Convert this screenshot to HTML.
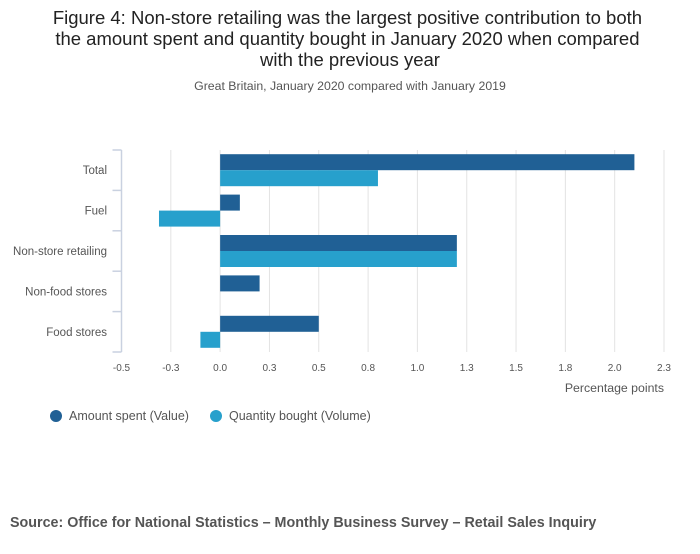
<!DOCTYPE html>
<html><head><meta charset="utf-8"><style>
body{margin:0;background:#fff;font-family:"Liberation Sans",sans-serif;}
svg text{font-family:"Liberation Sans",sans-serif;}
</style></head><body>
<svg width="700" height="549" viewBox="0 0 700 549">
<text x="350" y="24" text-anchor="middle" font-size="18.5" fill="#222">
<tspan x="350" y="24">Figure 4: Non-store retailing was the largest positive contribution to both</tspan>
<tspan x="350" y="45">the amount spent and quantity bought in January 2020 when compared</tspan>
<tspan x="350" y="66">with the previous year</tspan></text>
<text x="350" y="90" text-anchor="middle" font-size="12.3" fill="#555">Great Britain, January 2020 compared with January 2019</text>
<g id="grid"></g><g id="bars"></g><g id="axes"></g>
<text x="664" y="392" text-anchor="end" font-size="12.3" fill="#555">Percentage points</text>
<circle cx="56" cy="416" r="6" fill="#206095"/>
<text x="69" y="420" font-size="12.5" fill="#555">Amount spent (Value)</text>
<circle cx="216" cy="416" r="6" fill="#27a0cc"/>
<text x="229" y="420" font-size="12.5" fill="#555">Quantity bought (Volume)</text>
<text x="10" y="527" font-size="14.3" font-weight="bold" fill="#555">Source: Office for National Statistics – Monthly Business Survey – Retail Sales Inquiry</text>
</svg>
<script>
const categories=["Total","Fuel","Non-store retailing","Non-food stores","Food stores"];
const valueSeries=[2.10,0.10,1.20,0.20,0.50];
const volumeSeries=[0.80,-0.31,1.20,0,-0.10];
const tickValues=[-0.5,-0.25,0,0.25,0.5,0.75,1.0,1.25,1.5,1.75,2.0,2.25];
const tickLabels=["-0.5","-0.3","0.0","0.3","0.5","0.8","1.0","1.3","1.5","1.8","2.0","2.3"];
const NS="http://www.w3.org/2000/svg";
const xLeft=121.5,xRight=664,yTop=150,yBot=352;
function xs(v){return xLeft+(v-tickValues[0])/(tickValues[tickValues.length-1]-tickValues[0])*(xRight-xLeft);}
const band=(yBot-yTop)/categories.length;
function mk(tag,attrs,parent){const e=document.createElementNS(NS,tag);for(const k in attrs)e.setAttribute(k,attrs[k]);document.getElementById(parent).appendChild(e);return e;}
tickValues.forEach((v,i)=>{
 if(i>0){const l=mk('line',{x1:xs(v),x2:xs(v),y1:yTop,y2:yBot,stroke:'#e3e3e3','stroke-width':1},'grid');
 
 }
 const t=mk('text',{x:xs(v),y:371,'text-anchor':'middle','font-size':10,fill:'#555'},'axes');
 t.textContent=tickLabels[i];
 
 
});
const ax=mk('line',{x1:xLeft,x2:xLeft,y1:yTop,y2:yBot,stroke:'#c9d1e0','stroke-width':1.5},'axes');


for(let i=0;i<=categories.length;i++){
 const tk=mk('line',{x1:xLeft-9,x2:xLeft,y1:yTop+i*band,y2:yTop+i*band,stroke:'#c9d1e0','stroke-width':1.5},'axes');
 
 
}
categories.forEach((c,i)=>{
 const cy=yTop+i*band+band/2;
 const t=mk('text',{x:107,y:cy+4,'text-anchor':'end','font-size':11.5,fill:'#555'},'axes');
 t.textContent=c;
 
 
 [[valueSeries[i],'#206095',cy-16],[volumeSeries[i],'#27a0cc',cy]].forEach((s,j)=>{
  if(s[0]===0)return;
  const a=xs(0),b=xs(s[0]);
  const r=mk('rect',{x:Math.min(a,b),y:s[2],width:Math.abs(b-a),height:16,fill:s[1]},'bars');
  
  
 });
});
</script>
</body></html>
